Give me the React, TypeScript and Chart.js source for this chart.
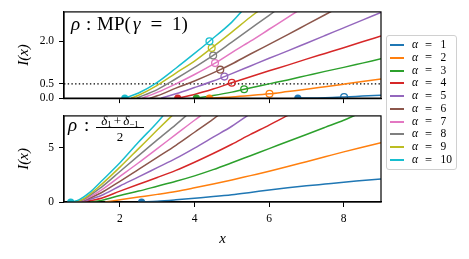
import React, { useEffect, useRef } from "react";
import { Chart, registerables } from "chart.js";
Chart.register(...registerables);

// ---------- data ----------
const alphas = [1, 2, 3, 4, 5, 6, 7, 8, 9, 10];
const colors = ["#1f77b4", "#ff7f0e", "#2ca02c", "#d62728", "#9467bd", "#8c564b", "#e377c2", "#7f7f7f", "#bcbd22", "#17becf"];
const xTicks = [2, 4, 6, 8];
const topYTicks = [0, 0.5, 2];
const bottomYTicks = [0, 5];
const threshold = 0.5;
const xRange = [0.5, 9];
const topYRange = [0, 3.03];
const bottomYRange = [0, 7.9];

// top panel: rho = MP(gamma = 1)
const mp1 = [[6.77, 0], [7.5, 0.015], [8.01, 0.04], [8.5, 0.07], [9.0, 0.1]];
const mp2 = [[4.4, 0], [5.0, 0.04], [5.5, 0.09], [6.01, 0.15], [6.5, 0.23], [7.0, 0.31], [7.5, 0.4], [8.0, 0.49], [8.5, 0.58], [9.0, 0.67]];
const mp3 = [[4.05, 0], [4.5, 0.09], [5.0, 0.21], [5.33, 0.31], [6.0, 0.5], [6.5, 0.64], [7.0, 0.79], [7.5, 0.94], [8.0, 1.08], [8.5, 1.23], [9.0, 1.38]];
const mp4 = [[3.55, 0], [4.0, 0.13], [4.5, 0.32], [5.0, 0.54], [5.5, 0.75], [6.0, 0.96], [6.5, 1.16], [7.0, 1.37], [7.5, 1.57], [8.0, 1.77], [8.5, 1.98], [9.0, 2.18]];
const mp5 = [[3.1, 0], [3.5, 0.15], [4.0, 0.37], [4.5, 0.6], [4.8, 0.755], [5.0, 0.86], [5.5, 1.13], [6.0, 1.4], [6.5, 1.66], [7.0, 1.93], [7.5, 2.2], [8.0, 2.47], [8.5, 2.74], [9.0, 3.01]];
const mp6 = [[2.8, 0], [3.0, 0.08], [3.5, 0.35], [4.0, 0.6], [4.69, 1.0], [5.0, 1.2], [5.5, 1.55], [6.0, 1.89], [6.5, 2.23], [7.0, 2.58], [7.5, 2.93], [7.7, 3.07]];
const mp7 = [[2.6, 0], [3.0, 0.2], [3.5, 0.5], [4.0, 0.83], [4.55, 1.23], [5.0, 1.6], [5.5, 2.0], [6.0, 2.42], [6.5, 2.84], [6.8, 3.09]];
const mp8 = [[2.45, 0], [3.0, 0.3], [3.5, 0.68], [4.0, 1.08], [4.5, 1.5], [5.0, 1.97], [5.5, 2.44], [6.0, 2.91], [6.2, 3.1]];
const mp9 = [[2.3, 0], [2.5, 0.1], [3.0, 0.45], [3.5, 0.88], [4.0, 1.3], [4.46, 1.76], [5.0, 2.32], [5.5, 2.85], [5.75, 3.1]];
const mp10 = [[2.13, 0], [2.5, 0.18], [2.94, 0.5], [3.5, 1.05], [4.0, 1.57], [4.4, 2.0], [5.0, 2.67], [5.3, 3.1]];
const mpCurves = [mp1, mp2, mp3, mp4, mp5, mp6, mp7, mp8, mp9, mp10];
const mpMarkerX = [8.01, 6.01, 5.33, 5.0, 4.8, 4.69, 4.55, 4.5, 4.46, 4.4];
const mpMarkerY = [0.04, 0.15, 0.31, 0.54, 0.755, 1.0, 1.23, 1.5, 1.76, 2.0];
const mpOnsetAlpha = [1, 2, 3, 4, 10];
const mpOnsetX = [6.77, 4.4, 4.05, 3.55, 2.13];

// bottom panel: rho = (delta_1 + delta_-1)/2
const dd1 = [[2.58, 0], [3.0, 0.07], [3.5, 0.2], [4.0, 0.35], [4.5, 0.5], [5.0, 0.67], [5.5, 0.88], [6.0, 1.1], [6.5, 1.3], [7.0, 1.48], [7.5, 1.65], [8.0, 1.82], [8.5, 1.97], [9.0, 2.12]];
const dd2 = [[1.6, 0], [2.0, 0.2], [2.5, 0.45], [3.0, 0.7], [3.5, 0.97], [4.0, 1.3], [4.5, 1.65], [5.0, 2.02], [5.5, 2.42], [6.0, 2.82], [6.5, 3.25], [7.0, 3.7], [7.5, 4.15], [8.0, 4.6], [8.5, 5.02], [9.0, 5.43]];
const dd3 = [[1.2, 0], [1.5, 0.15], [2.0, 0.6], [2.5, 1.0], [3.0, 1.45], [3.5, 1.9], [4.0, 2.4], [4.5, 2.97], [5.0, 3.6], [5.5, 4.25], [6.0, 4.9], [6.5, 5.55], [7.0, 6.2], [7.5, 6.85], [8.0, 7.5], [8.3, 7.95]];
const dd4 = [[1.0, 0], [1.5, 0.35], [2.0, 1.0], [2.5, 1.63], [3.0, 2.25], [3.5, 2.9], [4.0, 3.65], [4.5, 4.45], [5.0, 5.3], [5.5, 6.2], [6.0, 7.05], [6.5, 7.95]];
const dd5 = [[0.95, 0], [1.5, 0.6], [2.0, 1.47], [2.5, 2.3], [3.0, 3.15], [3.5, 4.0], [4.0, 4.95], [4.5, 5.95], [5.0, 6.95], [5.45, 8.0]];
const dd6 = [[0.9, 0], [1.0, 0.1], [1.5, 0.85], [2.0, 1.9], [2.5, 3.0], [3.0, 4.1], [3.5, 5.2], [4.0, 6.4], [4.5, 7.6], [4.65, 8.0]];
const dd7 = [[0.85, 0], [1.0, 0.15], [1.5, 1.1], [2.0, 2.35], [2.5, 3.6], [3.0, 4.9], [3.5, 6.2], [4.0, 7.5], [4.2, 8.0]];
const dd8 = [[0.8, 0], [1.0, 0.2], [1.5, 1.35], [2.0, 2.8], [2.5, 4.25], [3.0, 5.7], [3.5, 7.1], [3.8, 8.0]];
const dd9 = [[0.75, 0], [1.0, 0.25], [1.5, 1.6], [2.0, 3.2], [2.5, 4.9], [3.0, 6.6], [3.45, 8.1]];
const dd10 = [[0.7, 0], [0.9, 0.2], [1.2, 0.9], [1.5, 1.9], [2.0, 3.6], [2.5, 5.5], [3.0, 7.3], [3.2, 8.1]];
const ddCurves = [dd1, dd2, dd3, dd4, dd5, dd6, dd7, dd8, dd9, dd10];
const ddOnsetAlpha = [1, 10];
const ddOnsetX = [2.58, 0.68];

// ---------- helpers ----------
const SERIF = "'Liberation Serif', 'Times New Roman', serif";

const framePlugin = {
  id: "frame",
  afterDatasetsDraw(chart: any) {
    const { ctx, chartArea } = chart;
    const { left, top, right, bottom } = chartArea;
    ctx.save();
    ctx.strokeStyle = "#000";
    ctx.lineWidth = 1.2;
    ctx.strokeRect(left, top, right - left, bottom - top);
    ctx.restore();
  },
};

function curveSets(curves: number[][][]) {
  return curves.map((c, i) => ({
    label: `α = ${alphas[i]}`,
    data: c.map(([x, y]) => ({ x, y })),
    borderColor: colors[i],
    backgroundColor: colors[i],
    borderWidth: 1.5,
    pointRadius: 0,
    cubicInterpolationMode: "monotone",
    clip: 0,
    order: 100 - alphas[i],
  }));
}

function onsetSets(al: number[], xs: number[]) {
  return al.map((a, i) => ({
    label: `onset ${a}`,
    data: [{ x: xs[i], y: 0 }],
    showLine: false,
    pointRadius: 3.6,
    pointBorderWidth: 0,
    pointBackgroundColor: colors[a - 1],
    pointBorderColor: colors[a - 1],
    clip: 0,
    order: 60 - a,
  }));
}

function axisGrid() {
  return {
    drawOnChartArea: false,
    drawTicks: true,
    tickLength: 5,
    color: "#000",
    lineWidth: 1,
  };
}

function makeConfig(panel: "top" | "bottom") {
  const isTop = panel === "top";
  const datasets: any[] = [];
  if (isTop) {
    datasets.push({
      label: "threshold",
      data: [{ x: xRange[0], y: threshold }, { x: xRange[1], y: threshold }],
      borderColor: "#000",
      borderWidth: 1.4,
      borderDash: [1.4, 2.3],
      pointRadius: 0,
      clip: 0,
      order: 200,
    });
    datasets.push(...curveSets(mpCurves));
    datasets.push(...onsetSets(mpOnsetAlpha, mpOnsetX));
    alphas.forEach((a, i) => {
      datasets.push({
        label: `marker ${a}`,
        data: [{ x: mpMarkerX[i], y: mpMarkerY[i] }],
        showLine: false,
        pointRadius: 3.4,
        pointBorderWidth: 1.3,
        pointBackgroundColor: "rgba(0,0,0,0)",
        pointBorderColor: colors[i],
        clip: 0,
        order: 40 - a,
      });
    });
  } else {
    datasets.push(...curveSets(ddCurves));
    datasets.push(...onsetSets(ddOnsetAlpha, ddOnsetX));
  }
  const yTicks = isTop ? topYTicks : bottomYTicks;
  const yRange = isTop ? topYRange : bottomYRange;
  return {
    type: "line",
    data: { datasets },
    plugins: [framePlugin],
    options: {
      responsive: false,
      maintainAspectRatio: false,
      animation: false,
      events: [],
      layout: { padding: { left: 0, right: 88, top: isTop ? 11 : 6.7, bottom: 0 } },
      plugins: { legend: { display: false }, tooltip: { enabled: false } },
      scales: {
        x: {
          type: "linear",
          min: xRange[0],
          max: xRange[1],
          afterBuildTicks: (s: any) => {
            s.ticks = xTicks.map((v) => ({ value: v }));
          },
          afterFit: (s: any) => {
            s.height = isTop ? 7.5 : 57;
          },
          ticks: {
            display: !isTop,
            autoSkip: false,
            maxRotation: 0,
            color: "#000",
            padding: 5,
            font: { family: SERIF, size: 11.5 },
            callback: (v: any) => String(v),
          },
          grid: axisGrid(),
          border: { display: true, color: "#000", width: 1.2 },
          title: {
            display: !isTop,
            text: "x",
            color: "#000",
            font: { family: SERIF, size: 15, style: "italic" },
            padding: { top: 0, bottom: 11 },
          },
        },
        y: {
          type: "linear",
          min: yRange[0],
          max: yRange[1],
          afterBuildTicks: (s: any) => {
            s.ticks = yTicks.map((v) => ({ value: v }));
          },
          afterFit: (s: any) => {
            s.width = 64;
          },
          ticks: {
            autoSkip: false,
            color: "#000",
            padding: 5,
            font: { family: SERIF, size: 11.5 },
            callback: (v: any) => (isTop ? Number(v).toFixed(1) : String(v)),
          },
          grid: axisGrid(),
          border: { display: true, color: "#000", width: 1.2 },
          title: {
            display: true,
            text: "I(x)",
            color: "#000",
            font: { family: SERIF, size: 15, style: "italic" },
            padding: { top: 15, bottom: 0 },
          },
        },
      },
    },
  };
}

function Panel({ panel, top, height }: { panel: "top" | "bottom"; top: number; height: number }) {
  const ref = useRef<HTMLCanvasElement | null>(null);
  useEffect(() => {
    if (!ref.current) return;
    const chart = new Chart(ref.current, makeConfig(panel) as any);
    return () => chart.destroy();
  }, [panel]);
  return (
    <canvas
      ref={ref}
      width={469}
      height={height}
      style={{ position: "absolute", left: 0, top, width: 469, height }}
    />
  );
}

const abs = (left: number, top: number, extra: any = {}) => ({
  position: "absolute" as const,
  left,
  top,
  whiteSpace: "nowrap" as const,
  fontFamily: SERIF,
  color: "#000",
  lineHeight: 1,
  ...extra,
});

function Legend() {
  return (
    <div
      style={{
        position: "absolute",
        left: 386,
        top: 35,
        width: 71,
        height: 135,
        border: "1px solid #d0d0d0",
        borderRadius: 3,
        background: "rgba(255,255,255,0.8)",
        boxSizing: "border-box",
      }}
    >
      {alphas.map((a, i) => {
        const cy = 9 + i * 12.78;
        return (
          <React.Fragment key={a}>
            <div style={{ position: "absolute", left: 3, top: Math.round(cy - 1), width: 14, height: 2, background: colors[i] }} />
            <span style={abs(25, cy - 6, { fontSize: 11.5, fontStyle: "italic" })}>α</span>
            <span style={abs(38, cy - 6.3, { fontSize: 12.5 })}>=</span>
            <span style={abs(53.5, cy - 6, { fontSize: 11.5 })}>{a}</span>
          </React.Fragment>
        );
      })}
    </div>
  );
}

function Annotations() {
  const f = 19;
  const t = 31 - 0.891 * f;
  const tb = 131.5 - 0.891 * f;
  return (
    <>
      <span style={abs(71, t, { fontSize: f, fontStyle: "italic" })}>ρ</span>
      <span style={abs(86, t, { fontSize: f })}>:</span>
      <span style={abs(97, t, { fontSize: f })}>MP(</span>
      <span style={abs(133, t, { fontSize: f, fontStyle: "italic" })}>γ</span>
      <span style={abs(150.5, t - 0.5, { fontSize: 21 })}>=</span>
      <span style={abs(172, t, { fontSize: f })}>1)</span>

      <span style={abs(68, tb, { fontSize: f, fontStyle: "italic" })}>ρ</span>
      <span style={abs(84, tb, { fontSize: f })}>:</span>
      <div style={abs(95, 113.5, { fontSize: 13, width: 50, textAlign: "center" })}>
        <i>δ</i>
        <sub style={{ fontSize: 9, verticalAlign: "-2px" }}>1</sub>
        <span style={{ margin: "0 2px" }}>+</span>
        <i>δ</i>
        <sub style={{ fontSize: 9, verticalAlign: "-2px" }}>−1</sub>
      </div>
      <div style={{ position: "absolute", left: 96, top: 127, width: 48, height: 1, background: "#000" }} />
      <div style={abs(95, 129.5, { fontSize: 13, width: 50, textAlign: "center" })}>2</div>
    </>
  );
}

export default function App() {
  return (
    <div style={{ position: "absolute", left: 0, top: 0, width: 469, height: 259, background: "#fff", overflow: "hidden" }}>
      <Panel panel="top" top={0} height={110} />
      <Panel panel="bottom" top={104} height={155} />
      <Annotations />
      <Legend />
    </div>
  );
}
